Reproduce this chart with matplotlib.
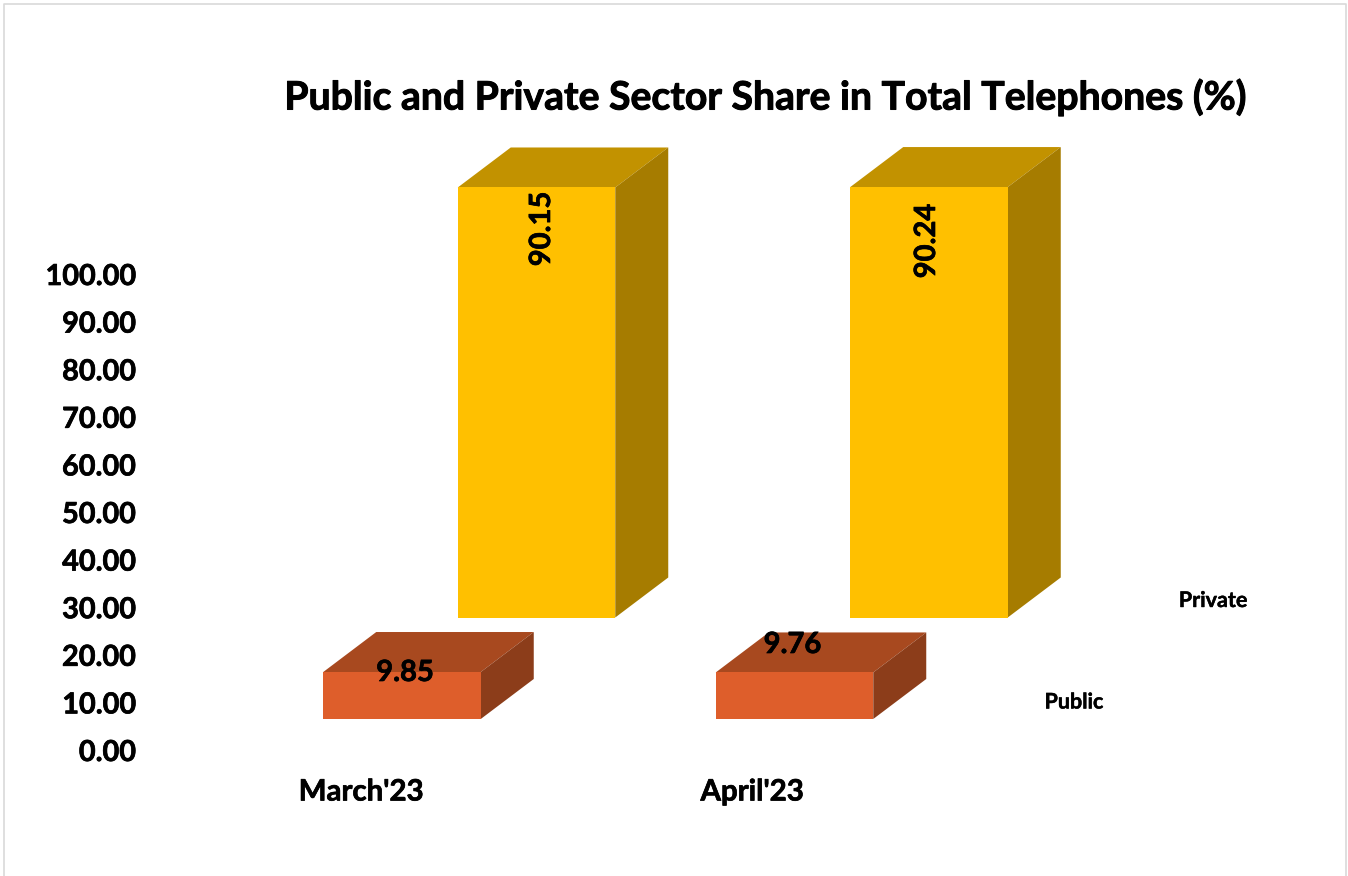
import matplotlib
matplotlib.use("Agg")
import matplotlib.pyplot as plt
import matplotlib.patheffects as pe
from matplotlib.patches import Polygon, Rectangle

W, H = 1348, 876

# values
months = ["March'23", "April'23"]
public = [9.85, 9.76]
private = [90.15, 90.24]
y_ticks = [0, 10, 20, 30, 40, 50, 60, 70, 80, 90, 100]
title = "Public and Private Sector Share in Total Telephones (%)"

# chart geometry, in pixels of the original
PX_PER_UNIT = 4.77     # y scale
PX_PER_CAT = 392.5     # distance between the two months
ZERO_Y = 751           # pixel row of 0.00
FIRST_X = 402          # centre of first public bar
BAR_W = 157.5
DEPTH_X, DEPTH_Y = 53, 40
PUBLIC_BASE = 32 / PX_PER_UNIT    # 3d series sit above the floor
PRIVATE_BASE = 133.5 / PX_PER_UNIT
PRIVATE_SHIFT = 134.5 / PX_PER_CAT

plt.rcParams['font.family'] = ['Lato', 'DejaVu Sans']
plt.rcParams['font.weight'] = 'bold'

fig = plt.figure(figsize=(W / 100, H / 100), dpi=100)
ax = fig.add_axes([0, 0, 1, 1])
ax.set_xlim(-FIRST_X / PX_PER_CAT, (W - FIRST_X) / PX_PER_CAT)
ax.set_ylim(-(H - ZERO_Y) / PX_PER_UNIT, ZERO_Y / PX_PER_UNIT)
ax.axis('off')


def bar3d(x, base, value, front, top, side):
    """Front, top and side faces of one fake 3d column"""
    w = BAR_W / PX_PER_CAT
    dx = DEPTH_X / PX_PER_CAT
    dy = DEPTH_Y / PX_PER_UNIT
    l, r = x - w / 2, x + w / 2
    t = base + value
    ax.add_patch(Polygon([(l, t), (r, t), (r + dx, t + dy), (l + dx, t + dy)], fc=top, ec='none'))
    ax.add_patch(Polygon([(r, base), (r + dx, base + dy), (r + dx, t + dy), (r, t)], fc=side, ec='none'))
    ax.add_patch(Rectangle((l, base), w, value, fc=front, ec='none'))


for i in range(len(months)):
    bar3d(i, PUBLIC_BASE, public[i], '#DE5E2B', '#A8491F', '#8C3D1A')
    bar3d(i + PRIVATE_SHIFT, PRIVATE_BASE, private[i], '#FFC000', '#C29200', '#A67C00')


def label(px, py, s, size, stroke=0.5, **kw):
    # Lato bold is a bit lighter than the original font, so thicken it slightly
    t = fig.text(px / W, 1 - py / H, s, fontsize=size, ha=kw.pop('ha', 'center'), va='center', color='black', **kw)
    t.set_path_effects([pe.withStroke(linewidth=stroke, foreground='black')])


for v in y_ticks:
    label(136, ZERO_Y - v * 4.76 + 2, "%.2f" % v, 20.8, ha='right')

label(361, 792.5, months[0], 21.2)
label(752, 792.5, months[1], 21.2)

label(765, 97.5, title, 28.2, stroke=0.7)

label(542, 229, "%.2f" % private[0], 21, rotation=90)
label(927, 241, "%.2f" % private[1], 21, rotation=90)
label(405, 673, "%.2f" % public[0], 21)
label(792.5, 645, "%.2f" % public[1], 21)

label(1213, 600.5, "Private", 15.5, stroke=0.3)
label(1074, 702, "Public", 15.5, stroke=0.3)

# thin grey frame, runs off the bottom
fig.add_artist(plt.Line2D([3.5 / W, 3.5 / W, 1346 / W, 1346 / W], [0, 1 - 3.5 / H, 1 - 3.5 / H, 0],
                          color='#D9D9D9', lw=1.2, transform=fig.transFigure))

fig.savefig("out.png", dpi=100)
